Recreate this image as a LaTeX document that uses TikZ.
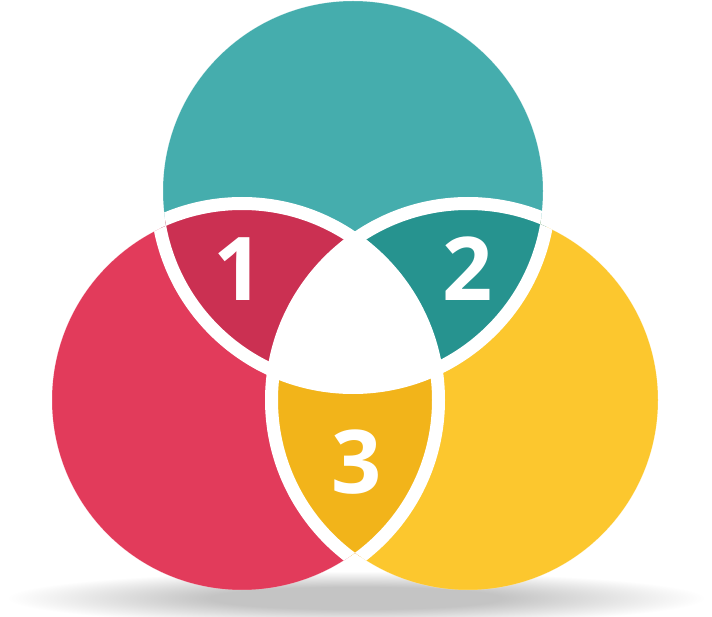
\documentclass[tikz,border=0pt]{standalone}
\usepackage{fontspec}
\setmainfont{Open Sans}
\definecolor{tealc}{HTML}{45ADAD}
\definecolor{dteal}{HTML}{26938F}
\definecolor{redc}{HTML}{E23B5B}
\definecolor{crim}{HTML}{CB3052}
\definecolor{yelc}{HTML}{FCC72E}
\definecolor{dyel}{HTML}{F2B41A}
\definecolor{shadowgray}{HTML}{C4C4C4}
\pgfdeclareradialshading{shadowsh}{\pgfpoint{0bp}{0bp}}{color(0bp)=(shadowgray); color(10bp)=(shadowgray); color(24bp)=(white); color(50bp)=(white)}
\tikzset{
  num/.style={text=white, font=\fontsize{88}{88}\selectfont\bfseries, inner sep=0pt},
  gapline/.style={draw=white, line width=13pt}
}
\begin{document}
\begin{tikzpicture}[x=1pt,y=-1pt]
\useasboundingbox (0,0) rectangle (712,617);
\def\R{196.5}
\def\Rv{190}
\coordinate (T) at (353,191);
\coordinate (L) at (242,400);
\coordinate (Y) at (468,400);
% shadow
\fill[shading=shadowsh] (-8,570) rectangle (720,626);
\begin{scope}
  \clip (T) circle[radius=\Rv] (L) circle[radius=\Rv] (Y) circle[radius=\Rv];
  \fill[tealc] (T) circle[radius=\R];
  \fill[redc] (L) circle[radius=\R];
  \fill[yelc] (Y) circle[radius=\R];
  \begin{scope}
    \clip (T) circle[radius=\R];
    \fill[crim] (L) circle[radius=\R];
    \fill[dteal] (Y) circle[radius=\R];
  \end{scope}
  \begin{scope}
    \clip (L) circle[radius=\R];
    \fill[dyel] (Y) circle[radius=\R];
    \clip (Y) circle[radius=\R];
    \fill[white] (T) circle[radius=\R];
  \end{scope}
  \path[gapline] (T) circle[radius=\R];
  \path[gapline] (L) circle[radius=\R];
  \path[gapline] (Y) circle[radius=\R];
\end{scope}
\node[num] (n1) at (239,269) {1};
\node[num] (n2) at (468,269) {2};
\node[num] (n3) at (357,462) {3};
\end{tikzpicture}
\end{document}
